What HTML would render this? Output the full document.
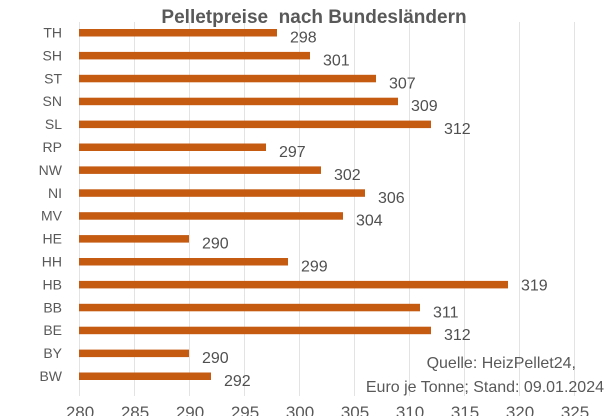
<!DOCTYPE html>
<html><head><meta charset="utf-8"><style>
html,body{margin:0;padding:0;background:#fff;}
svg{display:block;font-family:"Liberation Sans",sans-serif;}
</style></head><body>
<svg width="616" height="416" viewBox="0 0 616 416" xmlns="http://www.w3.org/2000/svg">
<rect width="616" height="416" fill="#fff"/>
<g stroke="#e3e3e3" stroke-width="1">
<line x1="79.5" y1="22" x2="79.5" y2="396"/>
<line x1="134.5" y1="22" x2="134.5" y2="396"/>
<line x1="189.5" y1="22" x2="189.5" y2="396"/>
<line x1="244.5" y1="22" x2="244.5" y2="396"/>
<line x1="299.5" y1="22" x2="299.5" y2="396"/>
<line x1="354.5" y1="22" x2="354.5" y2="396"/>
<line x1="409.5" y1="22" x2="409.5" y2="396"/>
<line x1="464.5" y1="22" x2="464.5" y2="396"/>
<line x1="519.5" y1="22" x2="519.5" y2="396"/>
<line x1="574.5" y1="22" x2="574.5" y2="396"/>
</g>
<text x="314" y="23" text-anchor="middle" font-size="19" font-weight="bold" fill="#595959" xml:space="preserve">Pelletpreise  nach Bundesländern</text>
<g id="bars" fill="#c55a11"></g>
<g id="lab" font-size="14" fill="#595959" text-anchor="end"></g>
<g id="val" font-size="16" fill="#505050"></g>
<g font-size="16" fill="#595959" text-anchor="end">
<text x="576" y="368">Quelle: HeizPellet24,</text>
<text x="604" y="392">Euro je Tonne; Stand: 09.01.2024</text>
</g>
<g font-size="17" fill="#595959" text-anchor="middle">
<text x="80" y="418">280</text><text x="135" y="418">285</text><text x="190" y="418">290</text><text x="245" y="418">295</text><text x="300" y="418">300</text><text x="355" y="418">305</text><text x="410" y="418">310</text><text x="465" y="418">315</text><text x="520" y="418">320</text><text x="575" y="418">325</text>
</g>
<script>
var d=[["TH",298],["SH",301],["ST",307],["SN",309],["SL",312],["RP",297],["NW",302],["NI",306],["MV",304],["HE",290],["HH",299],["HB",319],["BB",311],["BE",312],["BY",290],["BW",292]];
var ns="http://www.w3.org/2000/svg",b=document.getElementById("bars"),l=document.getElementById("lab"),v=document.getElementById("val");
d.forEach(function(r,i){var y=32.5+i*22.9,x2=79+(r[1]-280)*11;
var re=document.createElementNS(ns,"rect");re.setAttribute("x",79);re.setAttribute("y",y-3.5);re.setAttribute("width",x2-79);re.setAttribute("height",7.5);b.appendChild(re);
var t=document.createElementNS(ns,"text");t.setAttribute("x",62);t.setAttribute("y",y+5);t.textContent=r[0];l.appendChild(t);
var u=document.createElementNS(ns,"text");u.setAttribute("x",x2+13);u.setAttribute("y",y+(r[1]==319?6:10));u.textContent=r[1];v.appendChild(u);});
</script>
</svg>
</body></html>
